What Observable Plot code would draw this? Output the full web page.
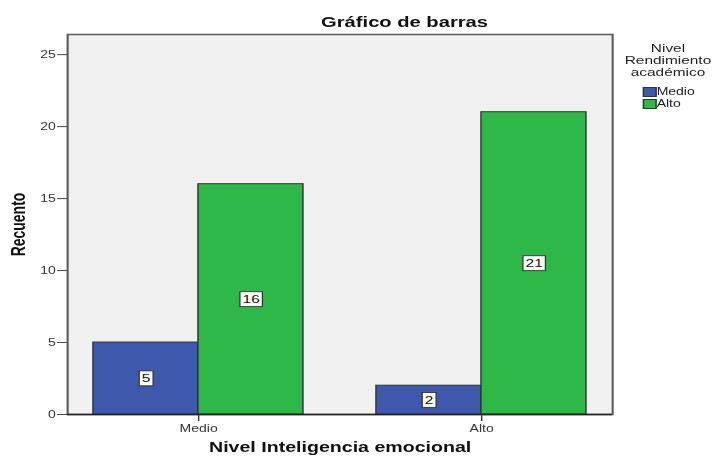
<!DOCTYPE html>
<html>
<head>
<meta charset="utf-8">
<script src="https://cdn.jsdelivr.net/npm/d3@7"></script>
<script src="https://cdn.jsdelivr.net/npm/@observablehq/plot@0.6"></script>
<style>
  html, body { margin: 0; padding: 0; background: #fff; overflow: hidden; }
  #wrap { position: relative; width: 512px; height: 456px; transform: scaleX(1.40039); transform-origin: 0 0; font-family: "Liberation Sans", Arial, sans-serif; color: #222; }
  #chart { position: absolute; left: 0; top: 0; }
  #title { position: absolute; left: 188.9px; width: 200px; top: 15.2px; text-align: center; font-size: 14.4px; line-height: 14px; font-weight: bold; color: #111; white-space: nowrap; }
  #legend { position: absolute; left: 427px; width: 100px; top: 41.6px; }
  #legend .lt { text-align: center; font-size: 11px; line-height: 12px; color: #222; white-space: nowrap; }
  #legend .items { position: absolute; left: 31.5px; top: 44.3px; }
  #legend .item { position: relative; height: 12px; font-size: 10px; line-height: 12px; white-space: nowrap; }
  #legend .sw { position: absolute; left: 0; top: 1.5px; width: 8.3px; height: 7.5px; border: 0.8px solid #333; }
  #legend .lab { position: absolute; left: 10.4px; top: 0; color: #222; }
  g[aria-label="y-axis label"] text, g[aria-label="x-axis label"] text { font-weight: bold; font-size: 14px; fill: #111; }
</style>
</head>
<body>
<div id="wrap">
  <div id="chart"></div>
  <div id="title"></div>
  <div id="legend"></div>
</div>
<script>
// Categories on the x axis (Nivel Inteligencia emocional)
const groups = ["Medio", "Alto"];
// Series (Nivel Rendimiento académico)
const series = ["Medio", "Alto"];
// Counts per series, one per group
const medioValues = [5, 2];
const altoValues = [16, 21];
const yTicks = [0, 5, 10, 15, 20, 25];
const seriesColors = ["#3e58ac", "#2eb848"];

const titleText = "Gráfico de barras";
const xLabel = "Nivel Inteligencia emocional";
const yLabel = "Recuento";
const legendTitle = ["Nivel", "Rendimiento", "académico"];

const rows = [];
groups.forEach((g, i) => {
  rows.push({group: g, series: series[0], value: medioValues[i]});
  rows.push({group: g, series: series[1], value: altoValues[i]});
});
const first = rows.filter(d => d.series === series[0]);
const second = rows.filter(d => d.series === series[1]);

const half = 75; // half of a cluster's band (one bar's width)

const plot = Plot.plot({
  width: 512,
  height: 456,
  marginTop: 34,
  marginBottom: 42,
  marginLeft: 47.8,
  marginRight: 75,
  style: {fontFamily: "'Liberation Sans', Arial, sans-serif", fontSize: "10px", color: "#222", background: "transparent"},
  x: {type: "band", domain: groups, paddingInner: 0.2578, paddingOuter: 0.0918, round: false},
  y: {domain: [0, 26.4]},
  color: {domain: series, range: seriesColors},
  marks: [
    Plot.frame({fill: "#f0f0f0", stroke: "#5a5a5a", strokeWidth: 1.5}),
    Plot.barY(first, {x: "group", y: "value", fill: "series", stroke: "#333", strokeWidth: 1, insetLeft: 0, insetRight: half}),
    Plot.barY(second, {x: "group", y: "value", fill: "series", stroke: "#333", strokeWidth: 1, insetLeft: half, insetRight: 0}),
    Plot.ruleY([0], {stroke: "#222", strokeWidth: 1.5}),
    Plot.text(first, {x: "group", y: d => d.value / 2, text: d => String(d.value), dx: -half / 2, fontSize: 11, fill: "#111"}),
    Plot.text(second, {x: "group", y: d => d.value / 2, text: d => String(d.value), dx: half / 2, fontSize: 11, fill: "#111"}),
    Plot.axisY({ticks: yTicks, tickSize: 7, tickPadding: 1.5, stroke: "#444", fill: "#333", label: yLabel, labelAnchor: "center", labelArrow: "none", labelOffset: 40.5}),
    Plot.axisX({tickSize: 7, tickPadding: 3, stroke: "#333", fill: "#333", label: xLabel, labelAnchor: "center", labelArrow: "none", labelOffset: 37})
  ]
});
document.getElementById("chart").appendChild(plot);

// white boxes behind the value labels
plot.querySelectorAll('g[aria-label="text"] text').forEach(t => {
  const bb = t.getBBox();
  const r = document.createElementNS("http://www.w3.org/2000/svg", "rect");
  const padX = 1.9, padY = 1.8;
  r.setAttribute("x", bb.x - padX);
  r.setAttribute("y", bb.y - padY + 0.5);
  r.setAttribute("width", bb.width + 2 * padX);
  r.setAttribute("height", bb.height + 2 * padY - 1);
  r.setAttribute("fill", "#fff");
  r.setAttribute("stroke", "#333");
  r.setAttribute("stroke-width", "0.9");
  const tr = t.getAttribute("transform");
  if (tr) r.setAttribute("transform", tr);
  t.parentNode.insertBefore(r, t);
});

document.getElementById("title").textContent = titleText;
const leg = document.getElementById("legend");
legendTitle.forEach(s => {
  const d = document.createElement("div");
  d.className = "lt";
  d.textContent = s;
  leg.appendChild(d);
});
const items = document.createElement("div");
items.className = "items";
series.forEach((s, i) => {
  const it = document.createElement("div");
  it.className = "item";
  const sw = document.createElement("span");
  sw.className = "sw";
  sw.style.background = seriesColors[i];
  const lab = document.createElement("span");
  lab.className = "lab";
  lab.textContent = s;
  it.appendChild(sw);
  it.appendChild(lab);
  items.appendChild(it);
});
leg.appendChild(items);
</script>
</body>
</html>
